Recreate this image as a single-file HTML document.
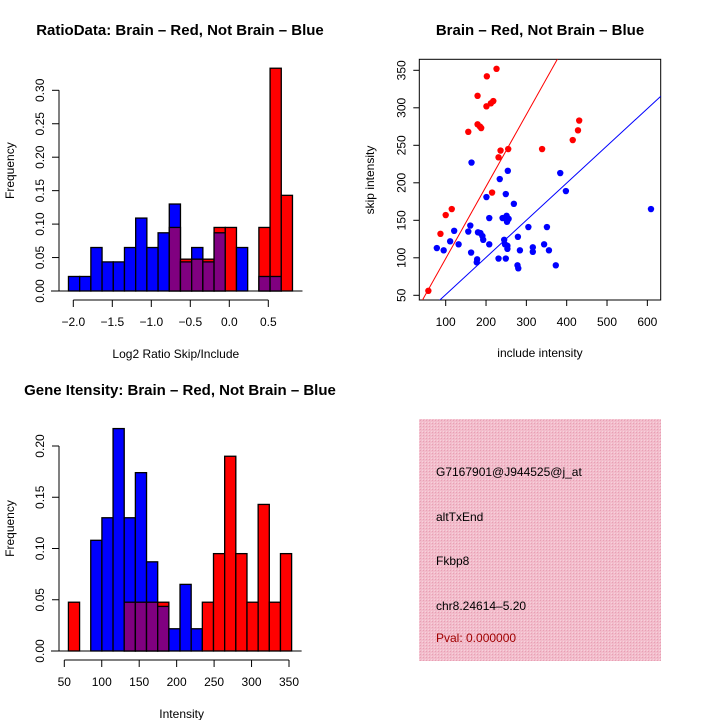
<!DOCTYPE html>
<html><head><meta charset="utf-8">
<style>
html,body{margin:0;padding:0;background:#fff;}
svg{display:block;font-family:"Liberation Sans",sans-serif;}
</style></head>
<body>
<svg id="chart" width="720" height="720" viewBox="0 0 720 720">
<defs>
<pattern id="pinkhatch" width="3" height="3" patternUnits="userSpaceOnUse">
<rect width="3" height="3" fill="#f2bccb"/>
<rect width="1" height="1" fill="#e8a0b4"/>
<rect x="2" y="2" width="1" height="1" fill="#f7d2dc"/>
</pattern>
</defs>
<text x="180" y="35" text-anchor="middle" font-size="15" font-weight="bold">RatioData: Brain – Red, Not Brain – Blue</text>
<text x="540" y="35" text-anchor="middle" font-size="15" font-weight="bold">Brain – Red, Not Brain – Blue</text>
<text x="180" y="395" text-anchor="middle" font-size="15" font-weight="bold">Gene Itensity: Brain – Red, Not Brain – Blue</text>
<g id="h1"></g>
<g id="sc"></g>
<g id="h2"></g>
<g>
<rect x="419" y="419" width="242" height="242" fill="url(#pinkhatch)"/>
<text x="436" y="476" font-size="12">G7167901@J944525@j_at</text>
<text x="436" y="521" font-size="12">altTxEnd</text>
<text x="436" y="565" font-size="12">Fkbp8</text>
<text x="436" y="610" font-size="12">chr8.24614–5.20</text>
<text x="436" y="642" font-size="12" fill="#a00000">Pval: 0.000000</text>
</g>
</svg>
<script>
// ratio histogram data
const ratioStart = -2.062, ratioWidth = 0.1436;
const ratioBlue = [0.0217,0.0217,0.065,0.0435,0.0435,0.065,0.109,0.065,0.087,0.13,0.0435,0.065,0.0435,0.087,0,0.065,0,0.0217,0.0217,0];
const ratioRed  = [0,0,0,0,0,0,0,0,0,0.095,0.0476,0.0476,0.0476,0.095,0.095,0,0,0.095,0.333,0.143];
const ratioXTicks = [-2.0,-1.5,-1.0,-0.5,0.0,0.5];
const ratioXLabels = ["−2.0","−1.5","−1.0","−0.5","0.0","0.5"];
const ratioYTicks = [0,0.05,0.1,0.15,0.2,0.25,0.3];
const ratioYLabels = ["0.00","0.05","0.10","0.15","0.20","0.25","0.30"];
// intensity histogram data
const intStart = 55.5, intWidth = 14.9;
const intBlue = [0,0,0.108,0.13,0.217,0.13,0.174,0.087,0.0435,0.0217,0.065,0.0217,0,0,0,0,0,0,0,0];
const intRed  = [0.0476,0,0,0,0,0.0476,0.0476,0.0476,0.0476,0,0,0,0.0476,0.095,0.19,0.095,0.0476,0.143,0.0476,0.095];
const intXTicks = [50,100,150,200,250,300,350];
const intYTicks = [0,0.05,0.1,0.15,0.2];
const intYLabels = ["0.00","0.05","0.10","0.15","0.20"];
// scatter data
const redX = [57,87,100,115,156,179,179,185,188,202,201,212,218,226,215,231,236,255,339,415,428,431];
const redY = [56,132,157,165,268,316,278,275,273,342,302,306,309,352,187,234,243,245,245,257,270,283];
const blueX = [78,95,111,121,132,156,161,163,164,177,178,180,186,191,193,201,208,208,231,234,241,245,247,249,249,251,252,254,253,253,256,269,279,278,280,284,305,316,316,344,351,356,373,384,398,609];
const blueY = [113,110,122,136,118,135,143,107,227,94,98,134,133,129,124,181,153,118,99,205,153,124,118,99,185,156,148,216,116,112,152,172,128,90,86,110,141,114,108,118,141,110,90,213,189,165];
const redLine = [3, 0.96];   // intercept, slope
const blueLine = [1.3, 0.496];
const scXTicks = [100,200,300,400,500,600];
const scYTicks = [50,100,150,200,250,300,350];

const NS="http://www.w3.org/2000/svg";
function mk(parent,tag,attrs,txt){const e=document.createElementNS(NS,tag);for(const k in attrs)e.setAttribute(k,attrs[k]);if(txt!==undefined)e.textContent=txt;parent.appendChild(e);return e;}

function hist(g,start,width,blue,red,xs,ys,xTicks,xLabels,yTicks,yLabels,yAxisX,xAxisY,xlab,prefix){
  blue.forEach((b,i)=>{
    const r=red[i];const x0=xs(start+i*width),x1=xs(start+(i+1)*width);
    const hi=Math.max(b,r),lo=Math.min(b,r);
    if(hi>0){
      const e=mk(g,'rect',{x:x0,y:ys(hi),width:x1-x0,height:ys(0)-ys(hi),fill:b>=r?'#0000ff':'#ff0000',stroke:'#000','stroke-width':1.3});
      
      
    }
    if(lo>0){
      const e=mk(g,'rect',{x:x0,y:ys(lo),width:x1-x0,height:ys(0)-ys(lo),fill:'#800080',stroke:'#000','stroke-width':1.3});
      
      
    }
  });
  const ya=mk(g,'g',{});
  
  
  mk(ya,'line',{x1:yAxisX,x2:yAxisX,y1:ys(yTicks[0]),y2:ys(yTicks[yTicks.length-1]),stroke:'#000'});
  yTicks.forEach((t,i)=>{const y=ys(t);mk(ya,'line',{x1:yAxisX-7,x2:yAxisX,y1:y,y2:y,stroke:'#000'});
    mk(ya,'text',{x:yAxisX-18,y:y,'font-size':12,'text-anchor':'middle',transform:`rotate(-90 ${yAxisX-18} ${y})`,'dominant-baseline':'middle'},yLabels[i]);});
  const yt=mk(g,'text',{x:14,y:(ys(yTicks[0])+ys(yTicks[yTicks.length-1]))/2-20,'font-size':12,'text-anchor':'middle'},'Frequency');
  yt.setAttribute('transform',`rotate(-90 14 ${yt.getAttribute('y')})`);
  
  
  mk(g,'line',{x1:yAxisX-8,x2:xs(start+width*blue.length)+10,y1:ys(0),y2:ys(0),stroke:'#000'});
  const xa=mk(g,'g',{});
  
  
  mk(xa,'line',{x1:xs(xTicks[0]),x2:xs(xTicks[xTicks.length-1]),y1:xAxisY,y2:xAxisY,stroke:'#000'});
  xTicks.forEach((t,i)=>{const x=xs(t);mk(xa,'line',{x1:x,x2:x,y1:xAxisY,y2:xAxisY+7,stroke:'#000'});
    mk(xa,'text',{x:x,y:xAxisY+26,'font-size':12,'text-anchor':'middle'},xLabels[i]);});
  const xt=mk(g,'text',{x:(xs(xTicks[0])+xs(xTicks[xTicks.length-1]))/2+5,y:xAxisY+58,'font-size':12,'text-anchor':'middle'},xlab);
  
  
}

const rxs=v=>73.3+(v+2)*78, rys=v=>291-v*(33.45/0.05);
hist(document.getElementById('h1'),ratioStart,ratioWidth,ratioBlue,ratioRed,rxs,rys,ratioXTicks,ratioXLabels,ratioYTicks,ratioYLabels,59,300,'Log2 Ratio Skip/Include','ratio');
const ixs=v=>64.3+(v-50)*0.749, iys=v=>651-v*(51.25/0.05);
hist(document.getElementById('h2'),intStart,intWidth,intBlue,intRed,ixs,iys,intXTicks,intXTicks.map(String),intYTicks,intYLabels,59,660,'Intensity','intensity');

(function(){
  const g=document.getElementById('sc');
  const L=419.3,R=660.7,T=59.3,B=300;
  const sx=v=>445.7+(v-100)*0.4033, sy=v=>295.3-(v-50)*0.75;
  const cp=mk(g,'clipPath',{id:'scclip'});
  mk(cp,'rect',{x:L,y:T,width:R-L,height:B-T});
  const frame=mk(g,'rect',{x:L,y:T,width:R-L,height:B-T,fill:'none',stroke:'#000'});
  
  
  const x0=0,x1=700;
  const rl=mk(g,'line',{x1:sx(x0),y1:sy(redLine[0]+redLine[1]*x0),x2:sx(x1),y2:sy(redLine[0]+redLine[1]*x1),stroke:'#ff0000','clip-path':'url(#scclip)'});
  
  
  const bl=mk(g,'line',{x1:sx(x0),y1:sy(blueLine[0]+blueLine[1]*x0),x2:sx(x1),y2:sy(blueLine[0]+blueLine[1]*x1),stroke:'#0000ff','clip-path':'url(#scclip)'});
  
  
  redX.forEach((v,i)=>{const c=mk(g,'circle',{cx:sx(v),cy:sy(redY[i]),r:3.2,fill:'#ff0000'});
    
    });
  blueX.forEach((v,i)=>{const c=mk(g,'circle',{cx:sx(v),cy:sy(blueY[i]),r:3.2,fill:'#0000ff'});
    
    });
  const xa=mk(g,'g',{});
  
  
  scXTicks.forEach(t=>{const x=sx(t);mk(xa,'line',{x1:x,x2:x,y1:B,y2:B+6,stroke:'#000'});
    mk(xa,'text',{x:x,y:B+26,'font-size':12,'text-anchor':'middle'},String(t));});
  const ya=mk(g,'g',{});
  
  
  scYTicks.forEach(t=>{const y=sy(t);mk(ya,'line',{x1:L-6,x2:L,y1:y,y2:y,stroke:'#000'});
    mk(ya,'text',{x:L-17,y:y,'font-size':12,'text-anchor':'middle','dominant-baseline':'middle',transform:`rotate(-90 ${L-17} ${y})`},String(t));});
  const xt=mk(g,'text',{x:540,y:357,'font-size':12,'text-anchor':'middle'},'include intensity');
  
  
  const yt=mk(g,'text',{x:374,y:180,'font-size':12,'text-anchor':'middle',transform:'rotate(-90 374 180)'},'skip intensity');
  
  
})();
</script>
</body></html>
